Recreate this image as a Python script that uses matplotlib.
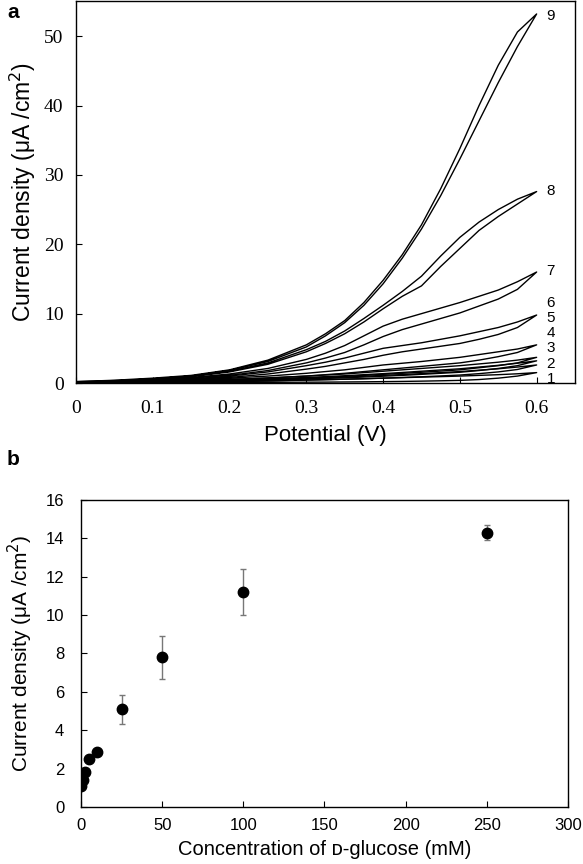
import matplotlib
matplotlib.use('Agg')
import matplotlib.pyplot as plt
from matplotlib.ticker import FuncFormatter
import numpy as np

plt.rcParams['font.family'] = ['Liberation Sans', 'DejaVu Sans']

# panel a: cyclic voltammograms (upper / lower branch of each loop)
potential = [0, 0.05, 0.1, 0.15, 0.2, 0.25, 0.3, 0.325, 0.35, 0.375, 0.4,
             0.425, 0.45, 0.475, 0.5, 0.525, 0.55, 0.575, 0.6]

upper_9 = [0.2, 0.4, 0.7, 1.1, 1.9, 3.3, 5.5, 7.1, 9.0, 11.6, 14.8, 18.5, 22.8, 28.0, 33.8, 40.0, 45.8, 50.6, 53.2]
lower_9 = [0.1, 0.3, 0.6, 1.0, 1.8, 3.1, 5.2, 6.8, 8.7, 11.2, 14.3, 18.0, 22.2, 27.0, 32.3, 37.8, 43.3, 48.5, 53.2]
upper_8 = [0.2, 0.35, 0.6, 1.0, 1.7, 2.9, 4.8, 6.0, 7.5, 9.3, 11.2, 13.2, 15.4, 18.3, 21.0, 23.2, 25.0, 26.5, 27.6]
lower_8 = [0.1, 0.25, 0.5, 0.9, 1.6, 2.7, 4.5, 5.7, 7.1, 8.8, 10.7, 12.5, 14.0, 16.8, 19.4, 22.0, 24.0, 25.8, 27.6]
upper_7 = [0.15, 0.3, 0.5, 0.8, 1.3, 2.1, 3.4, 4.3, 5.4, 6.8, 8.2, 9.2, 10.0, 10.8, 11.6, 12.5, 13.4, 14.6, 16.0]
lower_7 = [0.1, 0.2, 0.4, 0.7, 1.1, 1.8, 2.9, 3.6, 4.4, 5.5, 6.7, 7.7, 8.5, 9.3, 10.1, 11.1, 12.1, 13.5, 16.0]
upper_6 = [0.12, 0.25, 0.4, 0.6, 1.0, 1.6, 2.5, 3.0, 3.6, 4.3, 5.0, 5.4, 5.8, 6.3, 6.8, 7.4, 8.0, 8.8, 9.8]
lower_6 = [0.08, 0.2, 0.3, 0.5, 0.8, 1.3, 2.0, 2.4, 2.9, 3.4, 4.0, 4.5, 4.9, 5.3, 5.7, 6.3, 7.0, 8.0, 9.8]
upper_5 = [0.1, 0.2, 0.3, 0.45, 0.7, 1.0, 1.4, 1.65, 1.9, 2.25, 2.6, 2.85, 3.1, 3.4, 3.7, 4.1, 4.5, 4.9, 5.5]
lower_5 = [0.05, 0.12, 0.2, 0.3, 0.5, 0.7, 1.0, 1.2, 1.4, 1.65, 1.9, 2.15, 2.4, 2.65, 2.9, 3.3, 3.8, 4.4, 5.5]
upper_4 = [0.08, 0.15, 0.25, 0.35, 0.5, 0.75, 1.0, 1.15, 1.3, 1.5, 1.7, 1.9, 2.1, 2.3, 2.5, 2.75, 3.0, 3.3, 3.7]
lower_4 = [0.04, 0.1, 0.15, 0.25, 0.35, 0.5, 0.7, 0.82, 0.95, 1.1, 1.25, 1.4, 1.55, 1.72, 1.9, 2.2, 2.5, 2.9, 3.7]
upper_3 = [0.06, 0.12, 0.2, 0.3, 0.42, 0.6, 0.8, 0.92, 1.05, 1.2, 1.35, 1.52, 1.7, 1.88, 2.05, 2.3, 2.55, 2.85, 3.2]
lower_3 = [0.03, 0.08, 0.12, 0.2, 0.3, 0.42, 0.57, 0.66, 0.75, 0.86, 0.98, 1.1, 1.25, 1.4, 1.55, 1.8, 2.1, 2.5, 3.2]
upper_2 = [0.05, 0.1, 0.17, 0.25, 0.35, 0.48, 0.65, 0.75, 0.85, 0.97, 1.1, 1.22, 1.35, 1.5, 1.65, 1.85, 2.05, 2.3, 2.6]
lower_2 = [0.02, 0.05, 0.1, 0.15, 0.22, 0.3, 0.42, 0.48, 0.55, 0.62, 0.7, 0.8, 0.9, 1.02, 1.15, 1.35, 1.6, 1.95, 2.6]
upper_1 = [0.03, 0.07, 0.12, 0.18, 0.25, 0.33, 0.43, 0.49, 0.55, 0.62, 0.7, 0.77, 0.85, 0.92, 1.0, 1.1, 1.2, 1.33, 1.5]
lower_1 = [0.0, 0.02, 0.04, 0.06, 0.08, 0.1, 0.12, 0.13, 0.15, 0.17, 0.2, 0.23, 0.27, 0.32, 0.38, 0.5, 0.7, 1.0, 1.5]

curve_labels = ['1', '2', '3', '4', '5', '6', '7', '8', '9']
label_y = [0.6, 2.8, 5.0, 7.2, 9.4, 11.6, 16.2, 27.7, 52.9]

# panel b: calibration
conc = [0, 1, 2.5, 5, 10, 25, 50, 100, 250]
current = [1.1, 1.42, 1.8, 2.5, 2.88, 5.09, 7.8, 11.2, 14.3]
current_err = [0, 0, 0, 0, 0, 0.75, 1.12, 1.2, 0.38]

loops = [(upper_1, lower_1), (upper_2, lower_2), (upper_3, lower_3),
         (upper_4, lower_4), (upper_5, lower_5), (upper_6, lower_6),
         (upper_7, lower_7), (upper_8, lower_8), (upper_9, lower_9)]

fig = plt.figure(figsize=(5.83, 8.64), dpi=100)

# ---- panel a ----
ax1 = fig.add_axes([0.1304, 0.5567, 0.8559, 0.4416])
v = np.array(potential)
for up, lo in loops:
    xs = np.concatenate([v, v[::-1]])
    ys = np.concatenate([np.array(up), np.array(lo)[::-1]])
    ax1.plot(xs, ys, color='black', lw=1.0, solid_joinstyle='round')
for lab, ly in zip(curve_labels, label_y):
    ax1.text(0.613, ly, lab, fontsize=11, ha='left', va='center')

ax1.set_xlim(0, 0.65)
ax1.set_ylim(0, 55)
ax1.set_xticks([0, 0.1, 0.2, 0.3, 0.4, 0.5, 0.6])
ax1.set_yticks([0, 10, 20, 30, 40, 50])
ax1.xaxis.set_major_formatter(FuncFormatter(lambda x, p: '0' if x == 0 else '%.1f' % x))
ax1.tick_params(direction='in', length=4, width=0.8)
for lab in ax1.get_xticklabels() + ax1.get_yticklabels():
    lab.set_fontfamily('Liberation Serif')
    lab.set_fontsize(14)
ax1.tick_params(axis='x', pad=12)
ax1.tick_params(axis='y', pad=9)
ax1.set_xlabel('Potential (V)', fontsize=16, labelpad=6)
ax1.set_ylabel('Current density (μA /cm$^2$)', fontsize=16.5, labelpad=4)
for sp in ax1.spines.values():
    sp.set_linewidth(1.0)

fig.text(0.012, 0.985, 'a', fontsize=15, fontweight='bold', ha='left', va='center')

# ---- panel b ----
ax2 = fig.add_axes([0.139, 0.066, 0.835, 0.3553])
ax2.errorbar(conc, current, yerr=current_err, fmt='none', ecolor='#777777',
             elinewidth=1.0, capsize=2.5, capthick=1.0, zorder=2)
ax2.plot(conc, current, 'o', color='black', markersize=7.5, zorder=3)
ax2.set_xlim(0, 300)
ax2.set_ylim(0, 16)
ax2.set_xticks(range(0, 301, 50))
ax2.set_yticks(range(0, 17, 2))
ax2.tick_params(direction='in', length=4, width=0.8, labelsize=12)
ax2.tick_params(axis='x', pad=8)
ax2.tick_params(axis='y', pad=12)
ax2.set_xlabel('Concentration of ᴅ-glucose (mM)', fontsize=14.5, labelpad=5)
ax2.set_ylabel('Current density (μA /cm$^2$)', fontsize=15, labelpad=8)
for sp in ax2.spines.values():
    sp.set_linewidth(1.0)

fig.text(0.012, 0.468, 'b', fontsize=15, fontweight='bold', ha='left', va='center')

fig.savefig('out.png', dpi=100)
